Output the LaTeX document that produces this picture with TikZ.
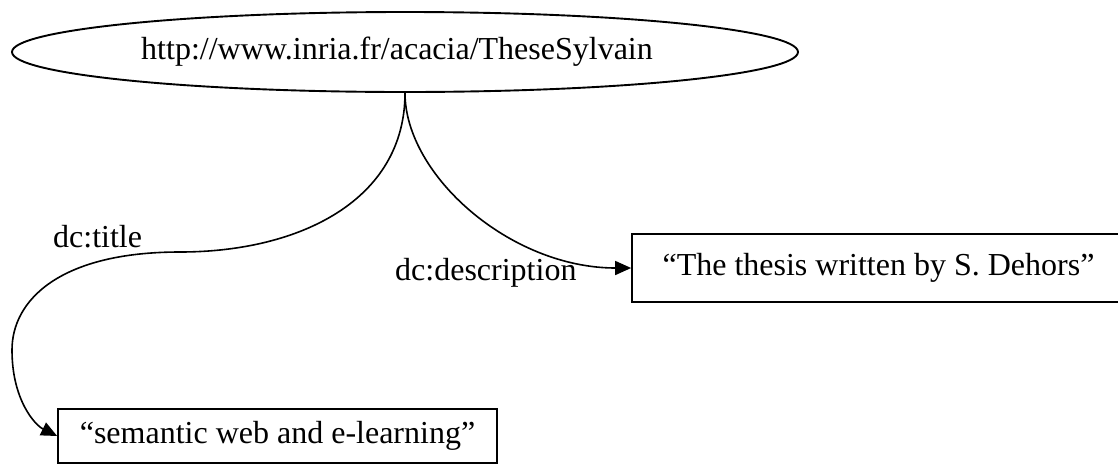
\documentclass[tikz,border=0pt]{standalone}
\usepackage{fontspec}
\setmainfont{Liberation Serif}
\usetikzlibrary{shapes.geometric,arrows.meta}
\begin{document}
\begin{tikzpicture}[x=1pt,y=-1pt,
  lbl/.style={font=\fontsize{32}{38}\selectfont, inner sep=0pt},
  resnode/.style={draw, line width=1.9pt, ellipse, inner sep=0pt, font=\fontsize{32}{38}\selectfont},
  litbox/.style={draw, line width=1.7pt, rectangle, inner sep=0pt, font=\fontsize{32}{38}\selectfont},
  conn/.style={line width=1.6pt, -{Triangle[length=16pt,width=14pt]}}]
\useasboundingbox (0,0) rectangle (1118,464);
\node[resnode, minimum width=786pt, minimum height=80pt] (res) at (405,52) {\hspace*{-16pt}\raisebox{-3pt}{http://www.inria.fr/acacia/TheseSylvain}};
\node[litbox, minimum width=500pt, minimum height=68pt] (desc) at (882,268) {\hspace*{-7pt}“The thesis written by S. Dehors”};
\node[litbox, minimum width=439pt, minimum height=54pt] (title) at (277.5,436) {\raisebox{-4pt}{“semantic web and e-learning”}};
\draw[conn] (res.south) .. controls +(0,107) and (300,252) .. (180,252)
   .. controls (60,252) and (12,300) .. (12,350)
   .. controls (12,400) and (35,425) .. (title.west);
\draw[conn] (res.south) .. controls +(0,82) and (510,268) .. (desc.west);
\node[lbl, anchor=base west] (lt) at (53,247) {dc:title};
\node[lbl, anchor=base west] (ld) at (395,280) {dc:description};
\end{tikzpicture}
\end{document}
